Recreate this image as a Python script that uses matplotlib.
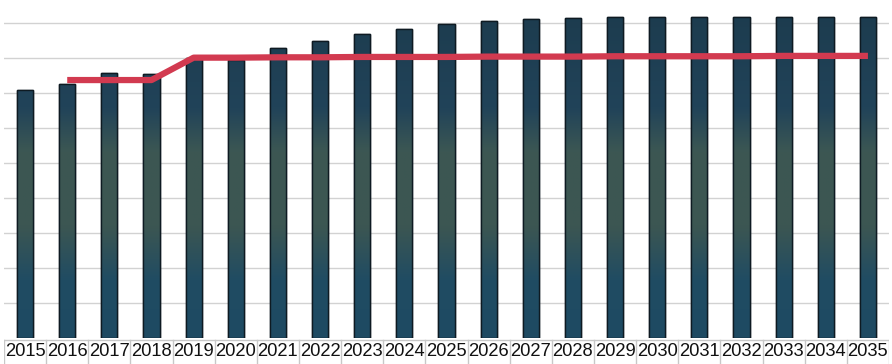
import numpy as np
import matplotlib
matplotlib.use('Agg')
from matplotlib import pyplot as plt
from matplotlib.colors import LinearSegmentedColormap

# data (units = gridline steps)
years = [str(y) for y in range(2015, 2036)]
bar_values = [7.09, 7.26, 7.57, 7.54, 8.00, 7.94, 8.29, 8.49, 8.69, 8.83, 8.97,
              9.06, 9.11, 9.14, 9.17, 9.18, 9.18, 9.18, 9.18, 9.18, 9.18]
line_years = years[1:]
line_values = [7.37, 7.37, 7.37, 8.01, 8.01, 8.02, 8.02, 8.03, 8.03, 8.03,
               8.04, 8.04, 8.04, 8.05, 8.05, 8.05, 8.05, 8.06, 8.06, 8.06]

W, H = 892, 364
fig = plt.figure(figsize=(W / 100, H / 100), dpi=100)
base = 338
ax = fig.add_axes([4 / W, 1 - base / H, 885 / W, base / H])
ymax = base / 35.0
ax.set_xlim(-0.5, 20.5)
ax.set_ylim(0, ymax)
ax.axis('off')

for g in range(1, 10):
    ax.axhline(g, color='#d2d2d2', lw=1.0, zorder=0)

# vertical gradient, shared by all bars
stops = [(0.0, '#1e4a62'), (0.17, '#204c63'), (0.33, '#3c5652'), (0.55, '#3c5753'),
         (0.68, '#214359'), (1.0, '#1c3b4d')]
cmap = LinearSegmentedColormap.from_list('bar', stops)
grad = np.linspace(0, 1, 256).reshape(-1, 1)

x = np.arange(len(years))
bars = ax.bar(x, bar_values, width=0.38, color='#1f4258', edgecolor='#0e1a22',
              linewidth=1.0, zorder=2)
for b in bars:
    im = ax.imshow(grad, cmap=cmap, origin='lower', aspect='auto',
                   extent=(b.get_x(), b.get_x() + b.get_width(), 0, ymax), zorder=2.5)
    im.set_clip_path(b)
    ax.add_patch(plt.Rectangle((b.get_x(), 0), b.get_width(), b.get_height(),
                               fill=False, edgecolor='#0e1a22', lw=1.0, zorder=2.6))

lx = np.arange(1, len(years))
ax.plot(lx, line_values, color='#d23a50', lw=4.5, solid_capstyle='butt', zorder=3)
ax.set_xlim(-0.5, 20.5)
ax.set_ylim(0, ymax)

# bottom label table
tab = fig.add_axes([4 / W, 0, 885 / W, (H - base) / H])
tab.set_xlim(-0.5, 20.5)
tab.set_ylim(0, 1)
tab.axis('off')
tab.axhline(0.93, color='#c8c8c8', lw=1.0)
for i in range(len(years) + 1):
    tab.axvline(i - 0.5, ymax=0.93, color='#c8c8c8', lw=1.0)
for i, lab in enumerate(years):
    tab.text(i, 0.5, lab, ha='center', va='center', fontsize=13.2,
             family='Liberation Sans', color='#111111')

fig.savefig('out.png', dpi=100)
